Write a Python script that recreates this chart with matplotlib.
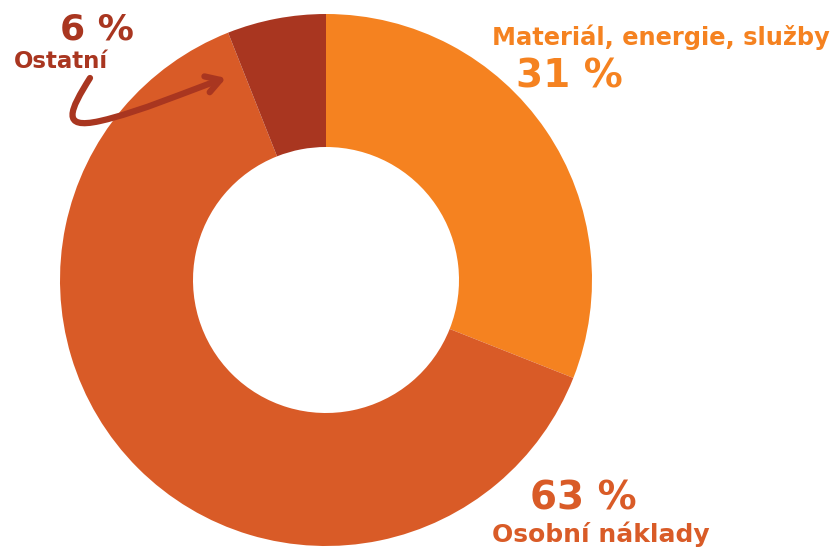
import matplotlib.pyplot as plt
import matplotlib.transforms as mtransforms
from matplotlib.path import Path
from matplotlib.patches import FancyArrowPatch

labels = ['Materiál, energie, služby', 'Osobní náklady', 'Ostatní']
values = [31, 63, 6]
colors = ['#F58220', '#D95B27', '#A93620']

W, H = 834, 547
fig = plt.figure(figsize=(W / 100, H / 100), dpi=100)

# donut placed by pixel: centre (326, 280), radius 266
cx, cy, r = 326, 280, 266
ax = fig.add_axes([(cx - r) / W, (H - cy - r) / H, 2 * r / W, 2 * r / H])
ax.pie(values, colors=colors, startangle=90, counterclock=False,
       radius=1, wedgeprops=dict(width=0.5, linewidth=0))
ax.set_xlim(-1, 1)
ax.set_ylim(-1, 1)
ax.set_aspect('equal')
ax.axis('off')

# pixel transform (origin top-left)
px = mtransforms.Affine2D().scale(1 / W, -1 / H).translate(0, 1) + fig.transFigure

font = 'DejaVu Sans'
fig.text(492, 37, labels[0], transform=px, color=colors[0], fontsize=17.4,
         fontweight='bold', family=font, va='center', ha='left')
fig.text(516, 77, f'{values[0]} %', transform=px, color=colors[0], fontsize=28,
         fontweight='bold', family=font, va='center', ha='left')
fig.text(530, 498, f'{values[1]} %', transform=px, color=colors[1], fontsize=28,
         fontweight='bold', family=font, va='center', ha='left')
fig.text(492, 534, labels[1], transform=px, color=colors[1], fontsize=18,
         fontweight='bold', family=font, va='center', ha='left')
fig.text(60, 29, f'{values[2]} %', transform=px, color=colors[2], fontsize=26,
         fontweight='bold', family=font, va='center', ha='left')
fig.text(14, 62, labels[2], transform=px, color=colors[2], fontsize=16.5,
         fontweight='bold', family=font, va='center', ha='left')

# hand-drawn style arrow to the small slice
verts = [(90, 78), (70, 110), (60, 130), (100, 121),
         (140, 112), (190, 90), (226, 78)]
codes = [Path.MOVETO, Path.CURVE4, Path.CURVE4, Path.CURVE4,
         Path.CURVE4, Path.CURVE4, Path.CURVE4]
arrow = FancyArrowPatch(path=Path(verts, codes), transform=px,
                        arrowstyle='->,head_length=10,head_width=6',
                        color=colors[2], linewidth=4.5, capstyle='round',
                        joinstyle='round')
fig.add_artist(arrow)

fig.savefig('out.png', dpi=100)
